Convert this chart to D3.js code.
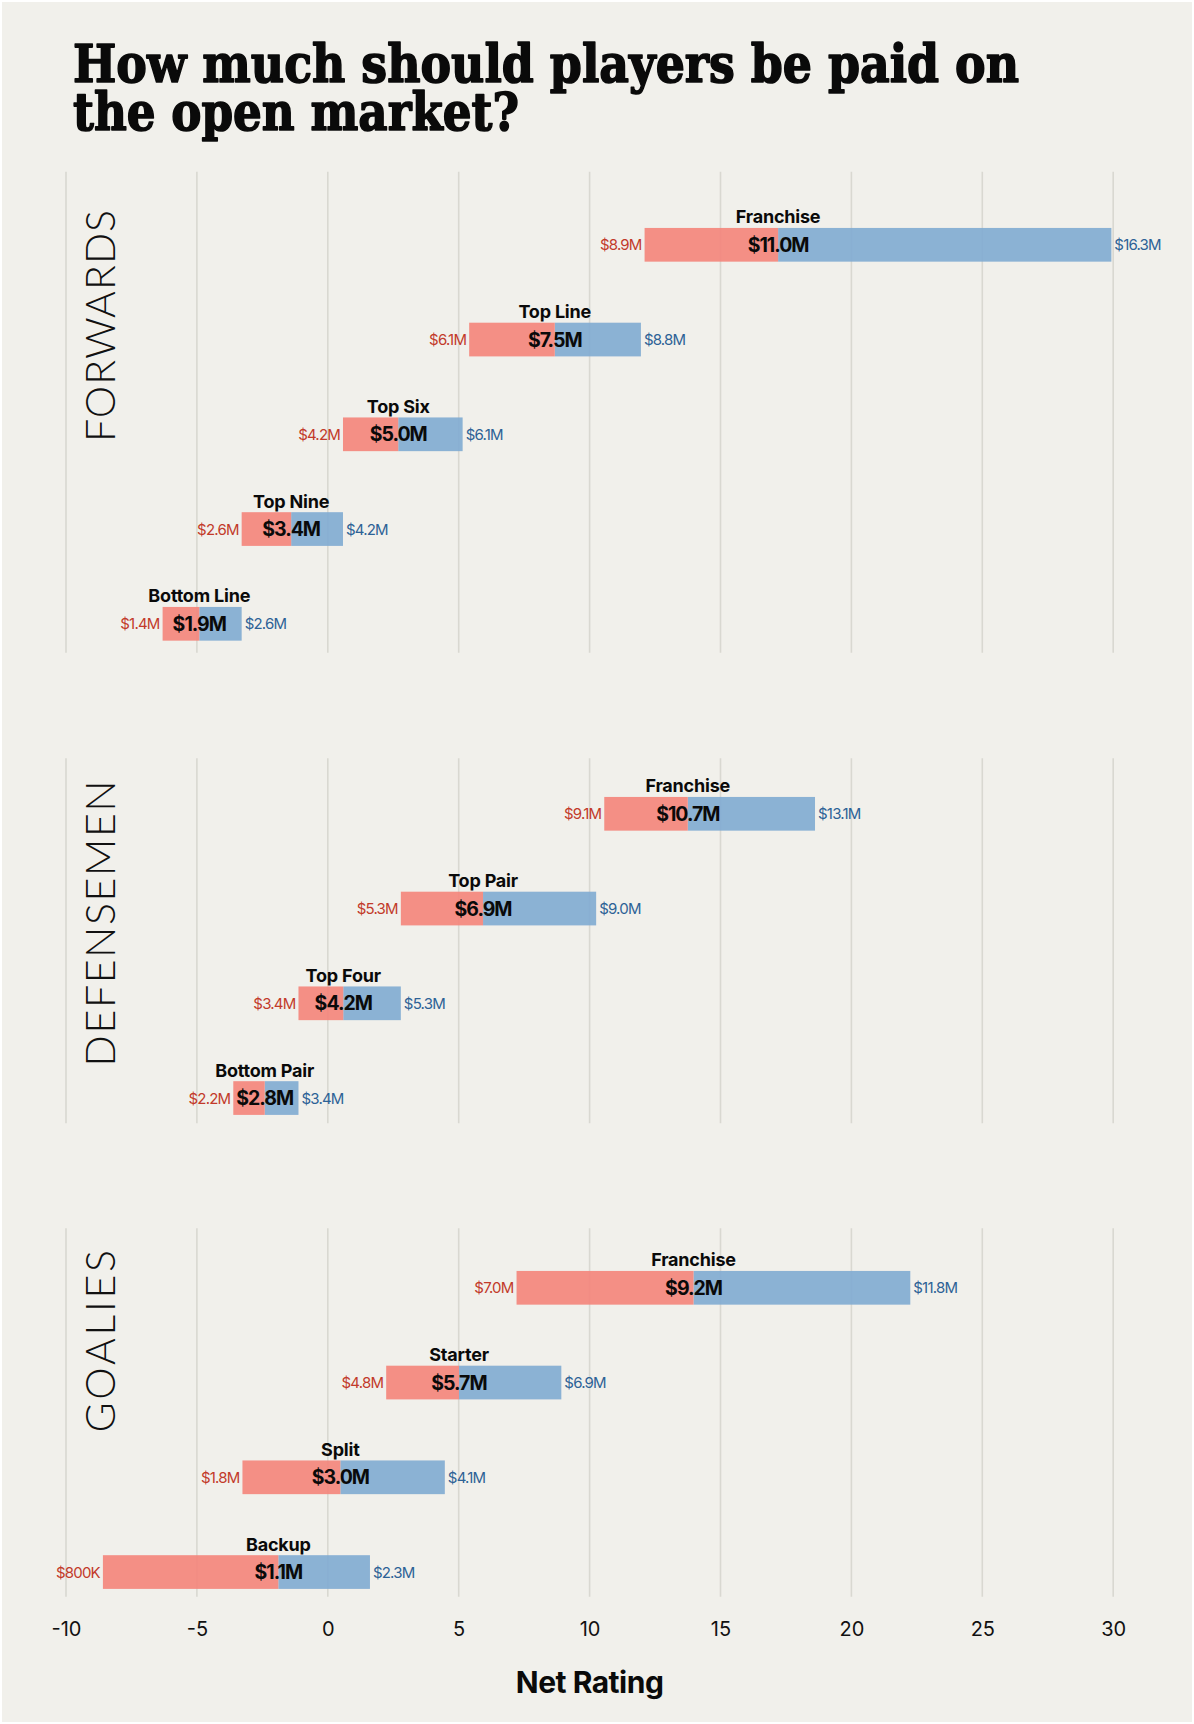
<!DOCTYPE html>
<html>
<head>
<meta charset="utf-8">
<script src="https://cdn.jsdelivr.net/npm/d3@7"></script>
<style>
  html, body { margin: 0; padding: 0; background: #ffffff; }
  svg { display: block; }
</style>
</head>
<body>
<script>
// ---------------- DATA ----------------
const xTicks = [-10, -5, 0, 5, 10, 15, 20, 25, 30];

const forwardsTiers = ["Franchise", "Top Line", "Top Six", "Top Nine", "Bottom Line"];
const forwardsLow  = [12.10, 5.40, 0.58, -3.29, -6.31];
const forwardsMid  = [17.20, 8.67, 2.69, -1.40, -4.91];
const forwardsHigh = [29.93, 11.96, 5.15, 0.58, -3.29];
const forwardsLowPay  = ["$8.9M", "$6.1M", "$4.2M", "$2.6M", "$1.4M"];
const forwardsMidPay  = ["$11.0M", "$7.5M", "$5.0M", "$3.4M", "$1.9M"];
const forwardsHighPay = ["$16.3M", "$8.8M", "$6.1M", "$4.2M", "$2.6M"];

const defenseTiers = ["Franchise", "Top Pair", "Top Four", "Bottom Pair"];
const defenseLow  = [10.56, 2.79, -1.12, -3.61];
const defenseMid  = [13.75, 5.93, 0.59, -2.41];
const defenseHigh = [18.61, 10.25, 2.79, -1.12];
const defenseLowPay  = ["$9.1M", "$5.3M", "$3.4M", "$2.2M"];
const defenseMidPay  = ["$10.7M", "$6.9M", "$4.2M", "$2.8M"];
const defenseHighPay = ["$13.1M", "$9.0M", "$5.3M", "$3.4M"];

const goalieTiers = ["Franchise", "Starter", "Split", "Backup"];
const goalieLow  = [7.21, 2.23, -3.26, -8.59];
const goalieMid  = [13.97, 5.01, 0.48, -1.89];
const goalieHigh = [22.25, 8.92, 4.47, 1.61];
const goalieLowPay  = ["$7.0M", "$4.8M", "$1.8M", "$800K"];
const goalieMidPay  = ["$9.2M", "$5.7M", "$3.0M", "$1.1M"];
const goalieHighPay = ["$11.8M", "$6.9M", "$4.1M", "$2.3M"];

const positionNames = ["FORWARDS", "DEFENSEMEN", "GOALIES"];
const titleLines = ["How much should players be paid on", "the open market?"];
const axisTitle = "Net Rating";

// ---------------- LAYOUT ----------------
const W = 1194, H = 1724;
const bg = "#f1f0eb";
const redFill = "#f4847a", blueFill = "#7fabd1";
const redText = "#c23a2a", blueText = "#2d6296";
const gridColor = "#d9d8d1";
const rowStep = 94.75, barH = 33.7;
const sans = "Inter, Roboto, 'Noto Sans', sans-serif";

function rows(tiers, low, mid, high, lp, mp, hp) {
  return tiers.map((t, i) => ({tier: t, low: low[i], mid: mid[i], high: high[i],
    lowPay: lp[i], midPay: mp[i], highPay: hp[i]}));
}

const panels = [
  {name: positionNames[0], gridTop: 171.7, gridBottom: 652.7, firstRow: 244.8, labelTop: 210, labelBottom: 442,
   data: rows(forwardsTiers, forwardsLow, forwardsMid, forwardsHigh, forwardsLowPay, forwardsMidPay, forwardsHighPay)},
  {name: positionNames[1], gridTop: 758.3, gridBottom: 1123.3, firstRow: 813.8, labelTop: 780.6, labelBottom: 1066.4,
   data: rows(defenseTiers, defenseLow, defenseMid, defenseHigh, defenseLowPay, defenseMidPay, defenseHighPay)},
  {name: positionNames[2], gridTop: 1228.3, gridBottom: 1596.7, firstRow: 1287.8, labelTop: 1250, labelBottom: 1432.6,
   data: rows(goalieTiers, goalieLow, goalieMid, goalieHigh, goalieLowPay, goalieMidPay, goalieHighPay)}
];

const svg = d3.select("body").append("svg").attr("width", W).attr("height", H);
svg.append("rect").attr("x", 2).attr("y", 2).attr("width", W - 4).attr("height", H - 4).attr("fill", bg);

const x = d3.scaleLinear().domain([-10, 30]).range([66, 1113.2]);

// Title (one text element, two lines)
const title = svg.append("text")
  .attr("font-family", "'DejaVu Serif', serif")
  .attr("font-weight", "bold")
  .attr("font-size", 52)
  .attr("fill", "#0a0a0a")
  .attr("stroke", "#0a0a0a")
  .attr("stroke-width", 1.6)
  .attr("stroke-linejoin", "round");
title.selectAll("tspan").data(titleLines).join("tspan")
  .attr("x", 73)
  .attr("y", (d, i) => 81.7 + i * 48.3)
  .attr("textLength", (d, i) => i === 0 ? 946 : 446)
  .attr("lengthAdjust", "spacingAndGlyphs")
  .text(d => d);

panels.forEach(p => {
  const g = svg.append("g");
  const y = d3.scalePoint().domain(p.data.map(d => d.tier))
    .range([p.firstRow, p.firstRow + (p.data.length - 1) * rowStep]);

  // grid
  g.append("g").selectAll("line").data(xTicks).join("line")
    .attr("x1", d => x(d)).attr("x2", d => x(d))
    .attr("y1", p.gridTop).attr("y2", p.gridBottom)
    .attr("stroke", gridColor).attr("stroke-width", 1.6);

  // position label
  g.append("text")
    .attr("transform", `translate(115,${p.labelBottom}) rotate(-90)`)
    .attr("font-family", "Lato, 'Open Sans', sans-serif")
    .attr("font-weight", 300)
    .attr("font-size", 41)
    .attr("fill", "#111")
    .attr("textLength", p.labelBottom - p.labelTop)
    .attr("lengthAdjust", "spacing")
    .text(p.name);

  const r = g.selectAll("g.row").data(p.data).join("g").attr("class", "row");
  // blue (upper) part
  r.append("rect")
    .attr("x", d => x(d.mid)).attr("width", d => x(d.high) - x(d.mid))
    .attr("y", d => y(d.tier) - barH / 2).attr("height", barH)
    .attr("fill", blueFill).attr("fill-opacity", 0.9);
  // red (lower) part
  r.append("rect")
    .attr("x", d => x(d.low)).attr("width", d => x(d.mid) - x(d.low))
    .attr("y", d => y(d.tier) - barH / 2).attr("height", barH)
    .attr("fill", redFill).attr("fill-opacity", 0.9);

  // tier name
  r.append("text")
    .attr("x", d => x(d.mid)).attr("y", d => y(d.tier) - barH / 2 - 4.5)
    .attr("text-anchor", "middle")
    .attr("font-family", sans).attr("font-weight", 700).attr("font-size", 18)
    .attr("letter-spacing", -0.2)
    .attr("fill", "#0a0a0a")
    .text(d => d.tier);
  // middle pay
  r.append("text")
    .attr("x", d => x(d.mid)).attr("y", d => y(d.tier) + 7)
    .attr("text-anchor", "middle")
    .attr("font-family", sans).attr("font-weight", 700).attr("font-size", 19.5)
    .attr("letter-spacing", -1)
    .attr("fill", "#0a0a0a")
    .text(d => d.midPay);
  // low pay
  r.append("text")
    .attr("x", d => x(d.low) - 3).attr("y", d => y(d.tier) + 5.5)
    .attr("text-anchor", "end")
    .attr("font-family", sans).attr("font-weight", 400).attr("font-size", 15)
    .attr("letter-spacing", -0.8)
    .attr("fill", redText)
    .text(d => d.lowPay);
  // high pay
  r.append("text")
    .attr("x", d => x(d.high) + 3).attr("y", d => y(d.tier) + 5.5)
    .attr("text-anchor", "start")
    .attr("font-family", sans).attr("font-weight", 400).attr("font-size", 15)
    .attr("letter-spacing", -0.8)
    .attr("fill", blueText)
    .text(d => d.highPay);
});

// x axis
const axis = d3.axisBottom(x).tickValues(xTicks).tickSize(0).tickPadding(0)
  .tickFormat(d => String(d));
const ag = svg.append("g").attr("transform", "translate(0,1621)").call(axis);
ag.select(".domain").remove();
ag.selectAll("text")
  .attr("font-family", sans).attr("font-size", 20).attr("font-weight", 400)
  .attr("fill", "#111").attr("dy", "0.75em");

svg.append("text")
  .attr("x", (x(-10) + x(30)) / 2).attr("y", 1692.5)
  .attr("text-anchor", "middle")
  .attr("font-family", sans).attr("font-weight", 700).attr("font-size", 30)
  .attr("letter-spacing", -0.5)
  .attr("fill", "#0a0a0a")
  .text(axisTitle);
</script>
</body>
</html>
